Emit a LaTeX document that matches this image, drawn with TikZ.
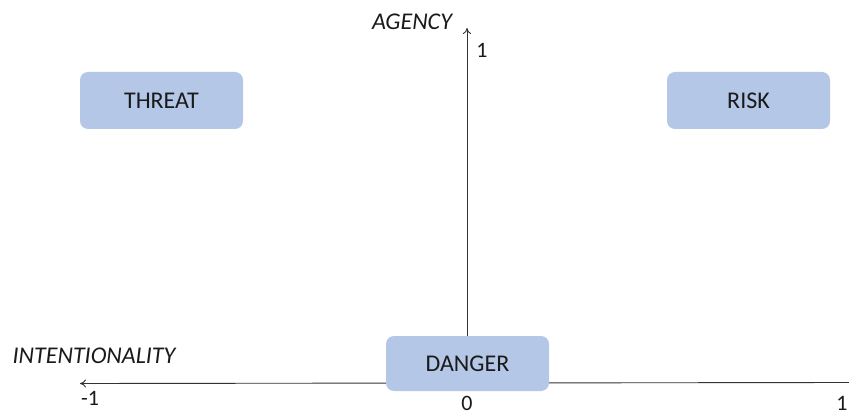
\documentclass[tikz,border=0pt]{standalone}
\usepackage{fontspec}
\setmainfont{Carlito}
\usetikzlibrary{arrows.meta}
\definecolor{boxfill}{HTML}{B4C7E7}
\definecolor{txt}{HTML}{1A1A1A}
\tikzset{
  catbox/.style={fill=boxfill, draw=none, rounded corners=8pt, minimum width=163pt, minimum height=57pt, inner sep=0pt, font=\fontsize{24pt}{26pt}\selectfont, text=txt},
  axislab/.style={font=\fontsize{24pt}{26pt}\selectfont\itshape, text=txt, inner sep=0pt},
  ticklab/.style={font=\fontsize{22pt}{24pt}\selectfont, text=txt, inner sep=0pt},
  axisline/.style={draw=black!80, line width=0.9pt, -{To[length=6pt,width=8pt]}}
}
\begin{document}
\begin{tikzpicture}[x=1pt,y=-1pt]
\useasboundingbox (0,0) rectangle (849,414);
\clip (0,0) rectangle (849,414);
\coordinate (xr) at (852,382.5);
\coordinate (xl) at (80,383.5);
\coordinate (yt) at (467,28);
\coordinate (yb) at (467,340);
\draw[axisline] (xr) -- (xl);
\draw[axisline] (yb) -- (yt);
\node[catbox] (threat) at (161.5,100.5) {THREAT};
\node[catbox] (risk) at (748.5,100.5) {RISK};
\node[catbox, minimum height=55pt] (danger) at (467.5,363.5) {DANGER};
\node[axislab] (agency) at (412,22) {AGENCY};
\node[axislab] (intent) at (94,356) {INTENTIONALITY};
\node[ticklab] (one) at (482,50) {1};
\node[ticklab] (mone) at (90,398) {-1};
\node[ticklab] (zero) at (467,403) {0};
\node[ticklab] (rone) at (842,403) {1};
\end{tikzpicture}
\end{document}
